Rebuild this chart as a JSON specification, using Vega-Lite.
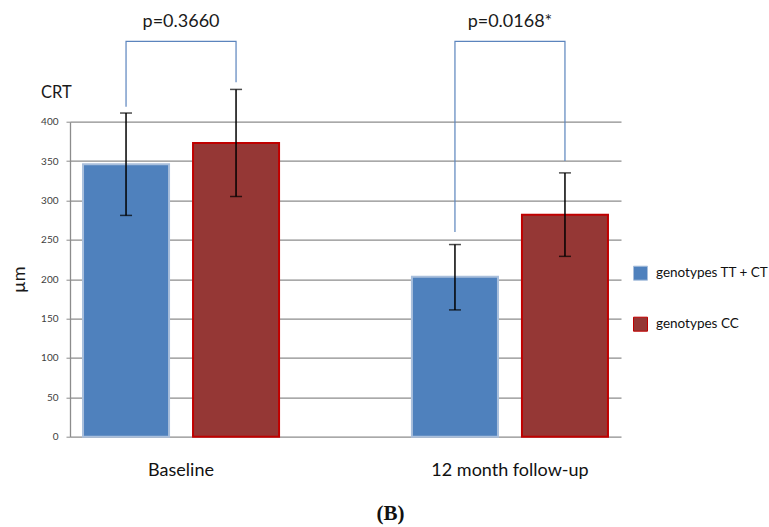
{
  "$schema": "https://vega.github.io/schema/vega-lite/v6.json",
  "autosize": {"type": "none"},
  "width": 551,
  "height": 315,
  "padding": {"left": 70, "top": 121.7, "right": 148, "bottom": 90.3},
  "background": "white",
  "config": {"view": {"stroke": null}, "font": "Lato"},
  "title": {"text": "CRT", "anchor": "start", "frame": "group", "dx": -29, "dy": 89, "offset": 0, "fontSize": 16.5, "fontWeight": "normal", "font": "Lato", "color": "#1a1a1a"},
  "datasets": {
    "bars": [
      {"time": "Baseline", "genotype": "genotypes TT + CT", "mean": 346, "lo": 281, "hi": 411},
      {"time": "Baseline", "genotype": "genotypes CC", "mean": 373, "lo": 305, "hi": 441},
      {"time": "12 month follow-up", "genotype": "genotypes TT + CT", "mean": 203, "lo": 161, "hi": 244},
      {"time": "12 month follow-up", "genotype": "genotypes CC", "mean": 282, "lo": 229, "hi": 335}
    ],
    "brackets": [
      {"time": "Baseline", "genotype": "genotypes TT + CT", "v": 419, "ord": 1},
      {"time": "Baseline", "genotype": "genotypes TT + CT", "v": 502, "ord": 2},
      {"time": "Baseline", "genotype": "genotypes CC", "v": 502, "ord": 3},
      {"time": "Baseline", "genotype": "genotypes CC", "v": 450, "ord": 4},
      {"time": "12 month follow-up", "genotype": "genotypes TT + CT", "v": 260, "ord": 1},
      {"time": "12 month follow-up", "genotype": "genotypes TT + CT", "v": 502, "ord": 2},
      {"time": "12 month follow-up", "genotype": "genotypes CC", "v": 502, "ord": 3},
      {"time": "12 month follow-up", "genotype": "genotypes CC", "v": 350, "ord": 4}
    ],
    "pvals": [
      {"time": "Baseline", "label": "p=0.3660", "v": 527},
      {"time": "12 month follow-up", "label": "p=0.0168*", "v": 527}
    ]
  },
  "layer": [
    {
      "data": {"name": "bars"},
      "mark": {"type": "bar", "strokeWidth": 2},
      "encoding": {
        "x": {
          "field": "time", "type": "nominal", "sort": ["Baseline", "12 month follow-up"],
          "scale": {"paddingInner": 0.404, "paddingOuter": 0.0396},
          "axis": {"domain": false, "ticks": false, "labelAngle": 0, "labelFontSize": 18, "labelColor": "#111", "labelFont": "Lato", "labelPadding": 25,
                   "title": "(B)", "titleFont": "Liberation Serif", "titleFontWeight": "bold", "titleFontSize": 21, "titleColor": "#111", "titleX": 320, "titleY": 77, "titleBaseline": "middle"}
        },
        "xOffset": {"field": "genotype", "type": "nominal", "sort": ["genotypes TT + CT", "genotypes CC"], "scale": {"paddingInner": 0.218, "paddingOuter": 0}},
        "y": {
          "field": "mean", "type": "quantitative", "title": "µm",
          "scale": {"domain": [0, 400], "nice": false},
          "axis": {"values": [0, 50, 100, 150, 200, 250, 300, 350, 400], "labelOverlap": false, "grid": true, "gridColor": "#8c8c8c", "gridWidth": 1.3,
                   "domainColor": "#8c8c8c", "domainWidth": 1.3, "tickColor": "#8c8c8c", "tickSize": 4, "labelFontSize": 10, "labelColor": "#404040", "labelPadding": 8, "labelFont": "Lato",
                   "titleFontSize": 18, "titleFontWeight": "normal", "titleColor": "#1a1a1a", "titlePadding": 12, "titleFont": "Lato"}
        },
        "color": {
          "field": "genotype", "type": "nominal",
          "scale": {"domain": ["genotypes TT + CT", "genotypes CC"], "range": ["#4F81BD", "#953735"]},
          "legend": {"orient": "none", "legendX": 563, "legendY": 144, "title": null, "symbolType": "square", "symbolSize": 196, "labelFontSize": 13.5, "labelFont": "Lato", "labelColor": "#111", "rowPadding": 32, "labelOffset": 8, "symbolStrokeWidth": 1}
        },
        "stroke": {
          "field": "genotype", "type": "nominal",
          "scale": {"domain": ["genotypes TT + CT", "genotypes CC"], "range": ["#a9bfdc", "#C00000"]},
          "legend": null
        }
      }
    },
    {
      "data": {"name": "bars"},
      "mark": {"type": "rule", "color": "#000", "strokeWidth": 1.5},
      "encoding": {
        "x": {"field": "time", "type": "nominal", "sort": ["Baseline", "12 month follow-up"]},
        "xOffset": {"field": "genotype", "type": "nominal", "sort": ["genotypes TT + CT", "genotypes CC"]},
        "y": {"field": "lo", "type": "quantitative", "title": "µm", "scale": {"domain": [0, 400], "nice": false},
              "axis": {"values": [0, 50, 100, 150, 200, 250, 300, 350, 400], "labelOverlap": false, "grid": true, "gridColor": "#8c8c8c", "gridWidth": 1.3,
                   "domainColor": "#8c8c8c", "domainWidth": 1.3, "tickColor": "#8c8c8c", "tickSize": 4, "labelFontSize": 10, "labelColor": "#404040", "labelPadding": 8, "labelFont": "Lato",
                   "titleFontSize": 18, "titleFontWeight": "normal", "titleColor": "#1a1a1a", "titlePadding": 12, "titleFont": "Lato"}},
        "y2": {"field": "hi"}
      }
    },
    {
      "data": {"name": "bars"},
      "mark": {"type": "tick", "color": "#000", "thickness": 1.5, "size": 12},
      "encoding": {
        "x": {"field": "time", "type": "nominal", "sort": ["Baseline", "12 month follow-up"]},
        "xOffset": {"field": "genotype", "type": "nominal", "sort": ["genotypes TT + CT", "genotypes CC"]},
        "y": {"field": "hi", "type": "quantitative", "title": "µm", "scale": {"domain": [0, 400], "nice": false},
              "axis": {"values": [0, 50, 100, 150, 200, 250, 300, 350, 400], "labelOverlap": false, "grid": true, "gridColor": "#8c8c8c", "gridWidth": 1.3,
                   "domainColor": "#8c8c8c", "domainWidth": 1.3, "tickColor": "#8c8c8c", "tickSize": 4, "labelFontSize": 10, "labelColor": "#404040", "labelPadding": 8, "labelFont": "Lato",
                   "titleFontSize": 18, "titleFontWeight": "normal", "titleColor": "#1a1a1a", "titlePadding": 12, "titleFont": "Lato"}}
      }
    },
    {
      "data": {"name": "bars"},
      "mark": {"type": "tick", "color": "#000", "thickness": 1.5, "size": 12},
      "encoding": {
        "x": {"field": "time", "type": "nominal", "sort": ["Baseline", "12 month follow-up"]},
        "xOffset": {"field": "genotype", "type": "nominal", "sort": ["genotypes TT + CT", "genotypes CC"]},
        "y": {"field": "lo", "type": "quantitative", "title": "µm", "scale": {"domain": [0, 400], "nice": false},
              "axis": {"values": [0, 50, 100, 150, 200, 250, 300, 350, 400], "labelOverlap": false, "grid": true, "gridColor": "#8c8c8c", "gridWidth": 1.3,
                   "domainColor": "#8c8c8c", "domainWidth": 1.3, "tickColor": "#8c8c8c", "tickSize": 4, "labelFontSize": 10, "labelColor": "#404040", "labelPadding": 8, "labelFont": "Lato",
                   "titleFontSize": 18, "titleFontWeight": "normal", "titleColor": "#1a1a1a", "titlePadding": 12, "titleFont": "Lato"}}
      }
    },
    {
      "data": {"name": "brackets"},
      "mark": {"type": "line", "color": "#5b84bd", "strokeWidth": 1.2},
      "encoding": {
        "x": {"field": "time", "type": "nominal", "sort": ["Baseline", "12 month follow-up"]},
        "xOffset": {"field": "genotype", "type": "nominal", "sort": ["genotypes TT + CT", "genotypes CC"]},
        "y": {"field": "v", "type": "quantitative", "title": "µm", "scale": {"domain": [0, 400], "nice": false},
              "axis": {"values": [0, 50, 100, 150, 200, 250, 300, 350, 400], "labelOverlap": false, "grid": true, "gridColor": "#8c8c8c", "gridWidth": 1.3,
                   "domainColor": "#8c8c8c", "domainWidth": 1.3, "tickColor": "#8c8c8c", "tickSize": 4, "labelFontSize": 10, "labelColor": "#404040", "labelPadding": 8, "labelFont": "Lato",
                   "titleFontSize": 18, "titleFontWeight": "normal", "titleColor": "#1a1a1a", "titlePadding": 12, "titleFont": "Lato"}},
        "detail": {"field": "time"},
        "order": {"field": "ord", "type": "quantitative"}
      }
    },
    {
      "data": {"name": "pvals"},
      "mark": {"type": "text", "fontSize": 18, "color": "#1a1a1a", "font": "Lato", "baseline": "middle"},
      "encoding": {
        "x": {"field": "time", "type": "nominal", "sort": ["Baseline", "12 month follow-up"]},
        "y": {"field": "v", "type": "quantitative", "title": "µm", "scale": {"domain": [0, 400], "nice": false},
              "axis": {"values": [0, 50, 100, 150, 200, 250, 300, 350, 400], "labelOverlap": false, "grid": true, "gridColor": "#8c8c8c", "gridWidth": 1.3,
                   "domainColor": "#8c8c8c", "domainWidth": 1.3, "tickColor": "#8c8c8c", "tickSize": 4, "labelFontSize": 10, "labelColor": "#404040", "labelPadding": 8, "labelFont": "Lato",
                   "titleFontSize": 18, "titleFontWeight": "normal", "titleColor": "#1a1a1a", "titlePadding": 12, "titleFont": "Lato"}},
        "text": {"field": "label"}
      }
    }
  ]
}
